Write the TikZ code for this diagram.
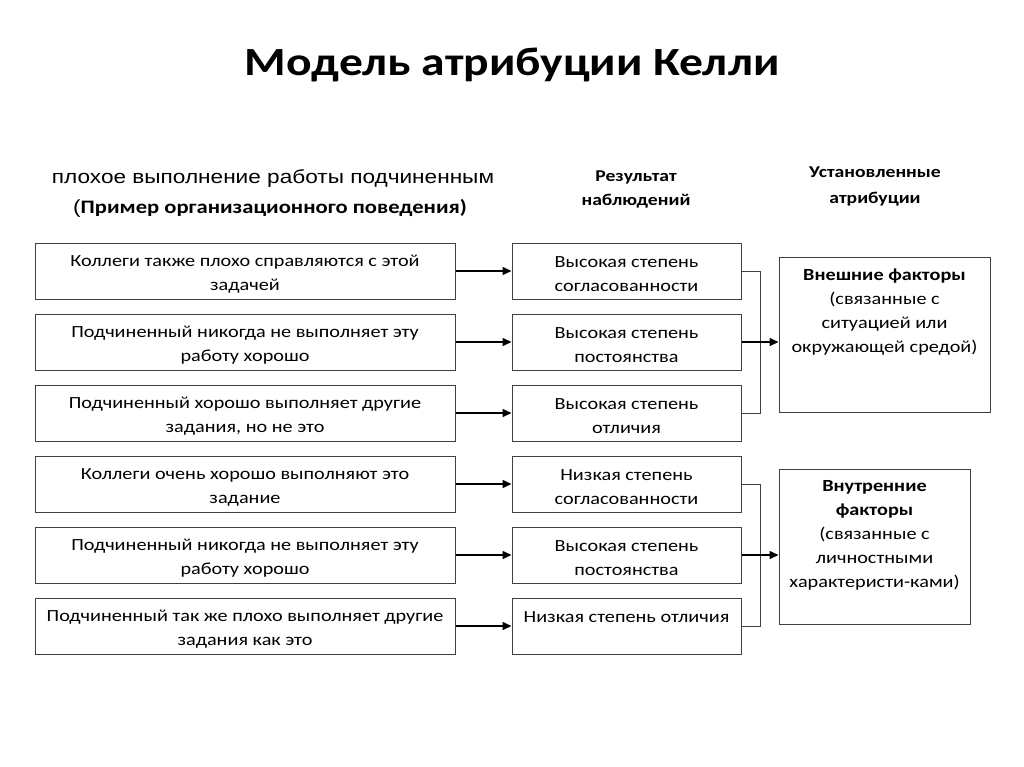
\documentclass[tikz,border=0pt]{standalone}
\usepackage{fontspec}
\setmainfont{Carlito}[FakeStretch=1.19]
\newfontfamily\arialf{Liberation Sans}[FakeStretch=1.19]
\usetikzlibrary{arrows.meta}
\begin{document}
\begin{tikzpicture}[x=1pt,y=-1pt,
  box/.style={draw=black!75,line width=1pt,inner sep=0pt},
  lbox/.style={box,minimum width=420pt,minimum height=56pt},
  mbox/.style={box,minimum width=229pt,minimum height=56pt},
  txt/.style={align=center,inner sep=0pt,font=\fontsize{17}{24}\selectfont},
  rtext/.style={txt,anchor=north},
  arr/.style={line width=1.5pt,-{Triangle[length=9pt,width=8pt]}},
  brk/.style={draw=black!75,line width=1pt},
  head/.style={align=center,font=\fontsize{16.5}{24}\selectfont\bfseries}]
\useasboundingbox[fill=white] (0,0) rectangle (1024,767);
\node[font=\fontsize{40}{48}\selectfont\bfseries] (title) at (512,65) {Модель атрибуции Келли};
\node[font=\fontsize{19}{28}\selectfont\arialf] (sub1) at (273,179) {плохое выполнение работы подчиненным};
\node[font=\fontsize{19}{28}\selectfont] (sub2) at (270,208) {{\arialf(}\textbf{Пример организационного поведения)}};
\node[head] (h1) at (636,189) {Результат\\наблюдений};
\node[head,font=\fontsize{16.5}{26}\selectfont\bfseries] (h2) at (875,186) {Установленные\\атрибуции};
\foreach \i/\y/\lt/\mt/\dy in {
 1/271/{Коллеги также плохо справляются с этой\\задачей}/{Высокая степень\\согласованности}/3.5,
 2/342/{Подчиненный никогда не выполняет эту\\работу хорошо}/{Высокая степень\\постоянства}/3.5,
 3/413/{Подчиненный хорошо выполняет другие\\задания, но не это}/{Высокая степень\\отличия}/3.5,
 4/484/{Коллеги очень хорошо выполняют это\\задание}/{Низкая степень\\согласованности}/3.5,
 5/555/{Подчиненный никогда не выполняет эту\\работу хорошо}/{Высокая степень\\постоянства}/3.5,
 6/626/{Подчиненный так же плохо выполняет другие\\задания как это}/{Низкая степень отличия}/-8.5}{
  \node[lbox] (l\i) at (245,\y) {};
  \node[txt] (lt\i) at (245,\y+3.5) {\lt};
  \node[mbox] (m\i) at (626.5,\y) {};
  \node[txt] (mt\i) at (626.5,\y+\dy) {\mt};
  \draw[arr] (l\i) -- (m\i);
}
\node[box,minimum width=211pt,minimum height=155pt] (r1) at (884.5,335) {};
\node[rtext] (t1) at ([yshift=-12pt]r1.north) {\textbf{Внешние факторы}\\(связанные с\\ситуацией или\\окружающей средой)};
\node[box,minimum width=191pt,minimum height=155pt] (r2) at (874.5,546.5) {};
\node[rtext] (t2) at ([yshift=-12pt]r2.north) {\textbf{Внутренние}\\\textbf{факторы}\\(связанные с\\личностными\\характеристи-ками)};
\coordinate (b1) at (760,342);
\coordinate (b2) at (760,555);
\draw[brk] (m1.east) -| (b1) |- (m3.east);
\draw[brk] (m4.east) -| (b2) |- (m6.east);
\draw[arr] (m2.east) -- (m2.east -| r1.west);
\draw[arr] (m5.east) -- (m5.east -| r2.west);
\end{tikzpicture}
\end{document}
